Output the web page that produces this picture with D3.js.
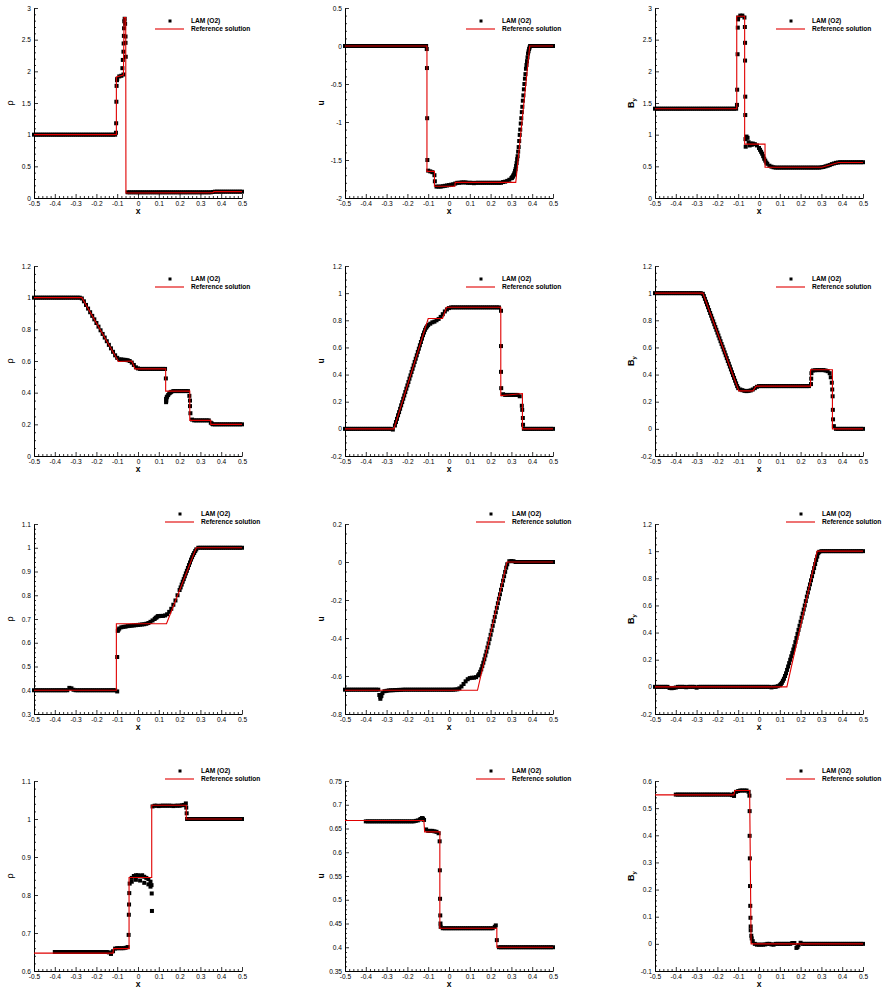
<!DOCTYPE html>
<html><head><meta charset="utf-8">
<script src="https://cdn.jsdelivr.net/npm/d3@7"></script>
<style>
body{margin:0;background:#fff}
svg{display:block}
text{font-family:"Liberation Sans",Arial,Helvetica,sans-serif}
</style>
</head><body>
<svg id="chart" width="887" height="988"></svg>
<script>
// ---------- DATA ----------
const xGrid = [-0.5,-0.49,-0.48,-0.47,-0.46,-0.45,-0.44,-0.43,-0.42,-0.41,
-0.4,-0.39,-0.38,-0.37,-0.36,-0.35,-0.34,-0.33,-0.32,-0.31,
-0.3,-0.29,-0.28,-0.27,-0.26,-0.25,-0.24,-0.23,-0.22,-0.21,
-0.2,-0.19,-0.18,-0.17,-0.16,-0.15,-0.14,-0.13,-0.12,-0.11,
-0.1,-0.09,-0.08,-0.07,-0.06,-0.05,-0.04,-0.03,-0.02,-0.01,
0,0.01,0.02,0.03,0.04,0.05,0.06,0.07,0.08,0.09,
0.1,0.11,0.12,0.13,0.14,0.15,0.16,0.17,0.18,0.19,
0.2,0.21,0.22,0.23,0.24,0.25,0.26,0.27,0.28,0.29,
0.3,0.31,0.32,0.33,0.34,0.35,0.36,0.37,0.38,0.39,
0.4,0.41,0.42,0.43,0.44,0.45,0.46,0.47,0.48,0.49,0.5];

const xTicks = [-0.5,-0.4,-0.3,-0.2,-0.1,0,0.1,0.2,0.3,0.4,0.5];
const legendLabels = ["LAM (O2)", "Reference solution"];

// Case 1
const lamRho1 = [
1,1,1,1,1,1,1,1,1,1,
1,1,1,1,1,1,1,1,1,1,
1,1,1,1,1,1,1,1,1,1,
1,1,1,1,1,1,1,1,1,1,
1.88,1.92,1.93,1.95,2.55,0.09,0.09,0.09,0.09,0.09,
0.09,0.09,0.09,0.09,0.09,0.09,0.09,0.09,0.09,0.09,
0.09,0.09,0.09,0.09,0.09,0.09,0.09,0.09,0.09,0.09,
0.09,0.09,0.09,0.09,0.09,0.09,0.09,0.09,0.09,0.09,
0.09,0.09,0.09,0.09,0.09,0.09,0.095,0.1,0.1,0.1,
0.1,0.1,0.1,0.1,0.1,0.1,0.1,0.1,0.1,0.1,0.1];
const extRho1 = [[-0.106,1.03],[-0.105,1.18],[-0.104,1.52],[-0.103,1.77],[-0.101,1.86],[-0.075,2.05],[-0.073,2.18],[-0.07,2.31],[-0.069,2.44],[-0.068,2.56],[-0.067,2.68],[-0.066,2.79],[-0.064,2.83],[-0.062,2.75],[-0.06,2.45],[-0.059,2.23]];
const refXRho1 = [-0.5,-0.104,-0.104,-0.07,-0.067,-0.059,-0.058,0.36,0.365,0.5];
const refYRho1 = [1,1,1.91,1.94,2.85,2.85,0.08,0.085,0.1,0.1];
const yTicksRho1 = [0,0.5,1,1.5,2,2.5,3];

const lamU1 = [
0,0,0,0,0,0,0,0,0,0,
0,0,0,0,0,0,0,0,0,0,
0,0,0,0,0,0,0,0,0,0,
0,0,0,0,0,0,0,0,0,0,
-1.64,-1.65,-1.66,-1.7,-1.85,-1.85,-1.85,-1.845,-1.84,-1.835,
-1.83,-1.825,-1.82,-1.81,-1.8,-1.8,-1.795,-1.795,-1.795,-1.8,
-1.8,-1.8,-1.805,-1.8,-1.8,-1.8,-1.8,-1.8,-1.8,-1.8,
-1.8,-1.8,-1.8,-1.8,-1.8,-1.8,-1.79,-1.785,-1.775,-1.76,
-1.74,-1.7,-1.62,-1.45,-1.17,-0.87,-0.57,-0.3,-0.1,0,
0,0,0,0,0,0,0,0,0,0,0];
const extU1 = [[-0.107,-0.04],[-0.106,-0.29],[-0.105,-0.95],[-0.104,-1.5],[-0.068,-1.78],
[0.3025,-1.735],[0.305,-1.725],[0.3075,-1.715],[0.3125,-1.69],[0.315,-1.67],[0.3175,-1.645],
[0.3225,-1.58],[0.325,-1.54],[0.3275,-1.49],[0.3325,-1.39],[0.335,-1.33],[0.3375,-1.25],
[0.3425,-1.1],[0.345,-1.02],[0.3475,-0.95],[0.3525,-0.8],[0.355,-0.72],[0.3575,-0.65],
[0.3625,-0.5],[0.365,-0.43],[0.3675,-0.37],[0.3725,-0.25],[0.375,-0.2],[0.3775,-0.15],
[0.3825,-0.07],[0.385,-0.04],[0.3875,-0.02]];
const refXU1 = [-0.5,-0.106,-0.106,-0.07,-0.07,0.028,0.03,0.321,0.388,0.5];
const refYU1 = [0,0,-1.65,-1.65,-1.845,-1.845,-1.795,-1.795,0,0];
const yTicksU1 = [-2,-1.5,-1,-0.5,0,0.5];

const lamBy1 = [
1.41,1.41,1.41,1.41,1.41,1.41,1.41,1.41,1.41,1.41,
1.41,1.41,1.41,1.41,1.41,1.41,1.41,1.41,1.41,1.41,
1.41,1.41,1.41,1.41,1.41,1.41,1.41,1.41,1.41,1.41,
1.41,1.41,1.41,1.41,1.41,1.41,1.41,1.41,1.41,1.41,
2.85,2.88,2.88,2.85,0.97,0.88,0.86,0.86,0.85,0.83,
0.79,0.73,0.66,0.59,0.54,0.51,0.495,0.485,0.48,0.48,
0.48,0.48,0.48,0.48,0.48,0.48,0.48,0.48,0.48,0.48,
0.48,0.48,0.48,0.48,0.48,0.48,0.48,0.48,0.48,0.48,
0.485,0.49,0.5,0.51,0.52,0.535,0.545,0.555,0.56,0.565,
0.565,0.565,0.565,0.565,0.565,0.565,0.565,0.565,0.565,0.565,0.565];
const extBy1 = [[-0.106,1.47],[-0.105,1.71],[-0.103,2.27],[-0.102,2.69],[-0.101,2.82],[-0.068,2.7],[-0.067,2.45],[-0.067,2.17],[-0.066,1.6],[-0.066,1.31],[-0.065,0.93],[-0.064,0.81],[-0.055,0.95],[-0.045,0.83],[-0.035,0.84],[0.005,0.76],[0.015,0.7],[0.025,0.62],[0.035,0.56]];
const refXBy1 = [-0.5,-0.107,-0.107,-0.069,-0.069,0.029,0.029,0.302,0.382,0.5];
const refYBy1 = [1.41,1.41,2.87,2.87,0.85,0.85,0.485,0.485,0.56,0.56];
const yTicksBy1 = [0,0.5,1,1.5,2,2.5,3];

// Case 2
const lamRho2 = [
1,1,1,1,1,1,1,1,1,1,
1,1,1,1,1,1,1,1,1,1,
1,1,1,0.995,0.977,0.954,0.931,0.908,0.885,0.863,
0.84,0.817,0.794,0.771,0.748,0.725,0.702,0.68,0.658,0.636,
0.62,0.61,0.61,0.608,0.607,0.605,0.6,0.59,0.575,0.56,
0.553,0.55,0.55,0.55,0.55,0.55,0.55,0.55,0.55,0.55,
0.55,0.55,0.55,0.55,0.375,0.395,0.405,0.41,0.41,0.41,
0.41,0.41,0.41,0.41,0.41,0.315,0.23,0.225,0.225,0.225,
0.225,0.225,0.225,0.225,0.225,0.21,0.2,0.2,0.2,0.2,
0.2,0.2,0.2,0.2,0.2,0.2,0.2,0.2,0.2,0.2,0.2];
const extRho2 = [[0.134,0.49],[0.135,0.36],[0.135,0.34],[0.136,0.35],[0.138,0.37],[0.145,0.385],[0.155,0.4],[0.247,0.38],[0.25,0.35],[0.252,0.27],[0.355,0.205]];
const refXRho2 = [-0.5,-0.27,-0.094,-0.03,-0.014,0.133,0.133,0.249,0.249,0.35,0.35,0.5];
const refYRho2 = [1,1,0.597,0.6,0.55,0.55,0.41,0.41,0.225,0.225,0.2,0.2];
const yTicksRho2 = [0,0.2,0.4,0.6,0.8,1,1.2];

const lamU2 = [
0,0,0,0,0,0,0,0,0,0,
0,0,0,0,0,0,0,0,0,0,
0,0,0,-0.005,0.025,0.074,0.123,0.173,0.222,0.271,
0.32,0.37,0.419,0.468,0.517,0.567,0.616,0.665,0.71,0.745,
0.765,0.775,0.785,0.79,0.8,0.81,0.825,0.845,0.865,0.88,
0.89,0.895,0.895,0.895,0.895,0.895,0.895,0.895,0.895,0.895,
0.895,0.895,0.895,0.895,0.895,0.895,0.895,0.895,0.895,0.895,
0.895,0.895,0.895,0.895,0.895,0.87,0.255,0.25,0.25,0.25,
0.25,0.25,0.25,0.25,0.24,0.17,0,0,0,0,
0,0,0,0,0,0,0,0,0,0,0];
const extU2 = [[-0.255,0.05],[-0.245,0.1],[-0.235,0.148],[-0.225,0.197],[-0.215,0.246],[-0.205,0.296],[-0.195,0.345],[-0.185,0.394],[-0.175,0.443],[-0.165,0.493],[-0.155,0.542],[-0.145,0.591],[-0.135,0.64],[-0.125,0.69],[-0.115,0.73],[-0.105,0.755],[0.25,0.61],[0.25,0.42],[0.251,0.3],[0.352,0.14],[0.355,0.08],[0.356,0.03]];
const refXU2 = [-0.5,-0.265,-0.1,-0.031,-0.012,0.249,0.249,0.353,0.353,0.5];
const refYU2 = [0,0,0.813,0.813,0.896,0.896,0.245,0.26,0,0];
const yTicksU2 = [-0.2,0,0.2,0.4,0.6,0.8,1,1.2];

const lamBy2 = [
1,1,1,1,1,1,1,1,1,1,
1,1,1,1,1,1,1,1,1,1,
1,1,1,0.995,0.958,0.917,0.875,0.834,0.792,0.75,
0.709,0.667,0.625,0.584,0.542,0.5,0.459,0.417,0.376,0.335,
0.3,0.29,0.285,0.28,0.278,0.28,0.283,0.29,0.3,0.31,
0.315,0.315,0.315,0.315,0.315,0.315,0.315,0.315,0.315,0.315,
0.315,0.315,0.315,0.315,0.315,0.315,0.315,0.315,0.315,0.315,
0.315,0.315,0.315,0.315,0.315,0.33,0.43,0.432,0.433,0.433,
0.433,0.433,0.43,0.425,0.41,0.34,0.02,0,0,0,
0,0,0,0,0,0,0,0,0,0,0];
const extBy2 = [[-0.265,0.978],[-0.255,0.937],[-0.245,0.896],[-0.235,0.854],[-0.225,0.813],[-0.215,0.771],[-0.205,0.73],[-0.195,0.688],[-0.185,0.646],[-0.175,0.605],[-0.165,0.563],[-0.155,0.521],[-0.145,0.48],[-0.135,0.438],[-0.125,0.396],[-0.115,0.355],[-0.105,0.315],[0.251,0.37],[0.252,0.41],[0.345,0.38],[0.352,0.29],[0.354,0.24],[0.355,0.14],[0.356,0.07]];
const refXBy2 = [-0.5,-0.27,-0.097,-0.029,-0.014,0.248,0.248,0.353,0.353,0.5];
const refYBy2 = [1,1,0.28,0.28,0.315,0.315,0.435,0.435,0,0];
const yTicksBy2 = [-0.2,0,0.2,0.4,0.6,0.8,1,1.2];

// Case 3
const lamRho3 = [
0.4,0.4,0.4,0.4,0.4,0.4,0.4,0.4,0.4,0.4,
0.4,0.4,0.4,0.4,0.4,0.4,0.4,0.41,0.408,0.402,
0.4,0.4,0.4,0.4,0.4,0.4,0.4,0.4,0.4,0.4,
0.4,0.4,0.4,0.4,0.4,0.4,0.4,0.4,0.4,0.4,
0.395,0.66,0.665,0.667,0.668,0.67,0.671,0.672,0.673,0.674,
0.675,0.676,0.677,0.678,0.68,0.683,0.688,0.694,0.7,0.707,
0.712,0.713,0.713,0.715,0.72,0.73,0.743,0.76,0.778,0.8,
0.822,0.845,0.868,0.892,0.915,0.938,0.96,0.978,0.993,1,
1,1,1,1,1,1,1,1,1,1,
1,1,1,1,1,1,1,1,1,1,1];
const extRho3 = [[-0.1,0.54],[-0.097,0.65],[-0.094,0.655],[0.085,0.705],[0.095,0.712],[0.205,0.833],[0.215,0.857],[0.225,0.88],[0.235,0.903],[0.245,0.927],[0.255,0.95],[0.265,0.97],[0.275,0.986]];
const refXRho3 = [-0.5,-0.104,-0.104,0.137,0.28,0.5];
const refYRho3 = [0.4,0.4,0.68,0.68,1,1];
const yTicksRho3 = [0.3,0.4,0.5,0.6,0.7,0.8,0.9,1,1.1];

const lamU3 = [
-0.672,-0.672,-0.672,-0.672,-0.672,-0.672,-0.672,-0.672,-0.672,-0.672,
-0.672,-0.672,-0.672,-0.672,-0.672,-0.672,-0.672,-0.71,-0.69,-0.68,
-0.678,-0.676,-0.675,-0.675,-0.674,-0.674,-0.673,-0.673,-0.672,-0.672,
-0.672,-0.672,-0.672,-0.672,-0.672,-0.672,-0.672,-0.672,-0.672,-0.672,
-0.672,-0.672,-0.672,-0.672,-0.672,-0.672,-0.672,-0.672,-0.672,-0.672,
-0.672,-0.672,-0.672,-0.671,-0.67,-0.665,-0.655,-0.642,-0.628,-0.617,
-0.611,-0.609,-0.609,-0.606,-0.597,-0.578,-0.548,-0.512,-0.472,-0.428,
-0.383,-0.336,-0.289,-0.241,-0.193,-0.146,-0.098,-0.052,-0.012,0.004,
0.005,0.004,0,0,0,0,0,0,0,0,
0,0,0,0,0,0,0,0,0,0,0];
const extU3 = [[0.145,-0.59],[0.155,-0.565],[0.165,-0.53],[0.175,-0.492],[0.185,-0.45],[0.195,-0.406],[0.205,-0.36],[0.215,-0.312],[0.225,-0.265],[0.235,-0.217],[0.245,-0.17],[0.255,-0.122],[0.265,-0.075],[0.275,-0.03],[-0.335,-0.7],[-0.325,-0.705],[-0.33,-0.72]];
const refXU3 = [-0.5,0.137,0.279,0.5];
const refYU3 = [-0.675,-0.675,0,0];
const yTicksU3 = [-0.8,-0.6,-0.4,-0.2,0,0.2];

const lamBy3 = [
0,0,0,0,0,0,0,-0.008,-0.01,-0.008,
-0.005,0,0,0,0,-0.003,0,0,0,0,
-0.006,0,0,0,0,0,0,0,0,0,
0,0,0,0,0,0,0,0,0,0,
0,0,0,0,0,0,0,0,0,0,
0,0,0,0,0,0,-0.004,0,0,0.005,
0.012,0.03,0.06,0.1,0.15,0.2,0.25,0.3,0.36,0.42,
0.48,0.54,0.6,0.665,0.725,0.785,0.845,0.905,0.96,0.995,
1,1,1,1,1,1,1,1,1,1,
1,1,1,1,1,1,1,1,1,1,1];
const extBy3 = [[0.105,0.02],[0.115,0.045],[0.125,0.08],[0.135,0.125],[0.145,0.175],[0.155,0.225],[0.165,0.275],[0.175,0.33],[0.185,0.39],[0.195,0.45],[0.205,0.51],[0.215,0.57],[0.225,0.632],[0.235,0.695],[0.245,0.755],[0.255,0.815],[0.265,0.875],[0.275,0.935],[0.285,0.985]];
const refXBy3 = [-0.5,0.134,0.28,0.5];
const refYBy3 = [0,0,1,1];
const yTicksBy3 = [-0.2,0,0.2,0.4,0.6,0.8,1,1.2];

// Case 4
const lamRho4 = [
null,null,null,null,null,null,null,null,null,null,
0.65,0.65,0.65,0.65,0.65,0.65,0.65,0.65,0.65,0.65,
0.65,0.65,0.65,0.65,0.65,0.65,0.65,0.65,0.65,0.65,
0.65,0.65,0.65,0.65,0.65,0.65,0.649,0.646,0.652,0.659,
0.66,0.66,0.66,0.66,0.661,0.663,0.83,0.845,0.85,0.852,
0.852,0.85,0.852,0.848,0.845,0.842,0.835,1.033,1.035,1.035,
1.034,1.035,1.035,1.035,1.035,1.035,1.035,1.034,1.035,1.035,
1.035,1.036,1.037,1.041,1,1,1,1,1,1,
1,1,1,1,1,1,1,1,1,1,
1,1,1,1,1,1,1,1,1,1,1];
const extRho4 = [[-0.045,0.695],[-0.044,0.748],[-0.043,0.775],[-0.042,0.805],[-0.03,0.835],[-0.01,0.84],[0.01,0.838],[0.03,0.832],[0.05,0.828],[0.06,0.822],[0.065,0.826],[0.066,0.804],[0.067,0.758],[0.232,1.03],[0.234,1.015],[0.236,1],[-0.13,0.645]];
const refXRho4 = [-0.5,-0.12,-0.118,-0.043,-0.043,0.066,0.066,0.232,0.232,0.5];
const refYRho4 = [0.647,0.647,0.659,0.659,0.846,0.846,1.036,1.036,1,1];
const yTicksRho4 = [0.6,0.7,0.8,0.9,1,1.1];

const lamU4 = [
null,null,null,null,null,null,null,null,null,null,
0.665,0.665,0.665,0.665,0.665,0.665,0.665,0.665,0.665,0.665,
0.665,0.665,0.665,0.665,0.665,0.665,0.665,0.665,0.665,0.665,
0.665,0.665,0.665,0.665,0.666,0.667,0.669,0.672,0.668,0.648,
0.645,0.645,0.645,0.644,0.643,0.64,0.443,0.44,0.44,0.44,
0.44,0.44,0.44,0.44,0.44,0.44,0.44,0.44,0.44,0.44,
0.44,0.44,0.44,0.44,0.44,0.44,0.44,0.44,0.44,0.44,
0.44,0.44,0.443,0.415,0.4,0.4,0.4,0.4,0.4,0.4,
0.4,0.4,0.4,0.4,0.4,0.4,0.4,0.4,0.4,0.4,
0.4,0.4,0.4,0.4,0.4,0.4,0.4,0.4,0.4,0.4,0.4];
const extU4 = [[-0.045,0.623],[-0.044,0.562],[-0.043,0.502],[-0.042,0.467],[-0.041,0.45],[0.225,0.446],[-0.135,0.67],[-0.125,0.671]];
const refXU4 = [-0.5,-0.121,-0.117,-0.044,-0.044,0.23,0.23,0.5];
const refYU4 = [0.667,0.667,0.643,0.643,0.44,0.44,0.4,0.4];
const yTicksU4 = [0.35,0.4,0.45,0.5,0.55,0.6,0.65,0.7,0.75];

const lamBy4 = [
null,null,null,null,null,null,null,null,null,null,
0.55,0.55,0.55,0.55,0.55,0.55,0.55,0.55,0.55,0.55,
0.55,0.55,0.55,0.55,0.55,0.55,0.55,0.55,0.55,0.55,
0.55,0.55,0.55,0.55,0.55,0.55,0.55,0.548,0.553,0.56,
0.563,0.565,0.565,0.565,0.565,0.56,0.05,0.01,0,-0.003,
-0.003,-0.003,-0.003,-0.002,0,0,-0.002,-0.003,0,0,
0,0,0,0,0,0,0.003,0.003,-0.015,-0.005,
0.004,0,0,0,0,0,0,0,0,0,
0,0,0,0,0,0,0,0,0,0,
0,0,0,0,0,0,0,0,0,0,0];
const extBy4 = [[-0.046,0.546],[-0.045,0.489],[-0.045,0.398],[-0.044,0.315],[-0.043,0.213],[-0.042,0.14],[-0.041,0.096],[-0.04,0.064],[-0.037,0.03],[-0.035,0.02],[-0.12,0.545],[0.185,-0.012]];
const refXBy4 = [-0.5,-0.121,-0.116,-0.045,-0.038,0.5];
const refYBy4 = [0.549,0.549,0.565,0.565,0,0];
const yTicksBy4 = [-0.1,0,0.1,0.2,0.3,0.4,0.5,0.6];

// ---------- LAYOUT ----------
const colX = [34, 345, 655];
const rowY = [8, 266, 524, 781];
const plotW = 208, plotH = 190;

const panels = [
  {r:0,c:0,v:"rho",lam:lamRho1,ext:extRho1,rx:refXRho1,ry:refYRho1,yt:yTicksRho1,minor:0.1},
  {r:0,c:1,v:"u",lam:lamU1,ext:extU1,rx:refXU1,ry:refYU1,yt:yTicksU1,minor:0.1},
  {r:0,c:2,v:"By",lam:lamBy1,ext:extBy1,rx:refXBy1,ry:refYBy1,yt:yTicksBy1,minor:0.1},
  {r:1,c:0,v:"rho",lam:lamRho2,ext:extRho2,rx:refXRho2,ry:refYRho2,yt:yTicksRho2,minor:0.05},
  {r:1,c:1,v:"u",lam:lamU2,ext:extU2,rx:refXU2,ry:refYU2,yt:yTicksU2,minor:0.05},
  {r:1,c:2,v:"By",lam:lamBy2,ext:extBy2,rx:refXBy2,ry:refYBy2,yt:yTicksBy2,minor:0.05},
  {r:2,c:0,v:"rho",lam:lamRho3,ext:extRho3,rx:refXRho3,ry:refYRho3,yt:yTicksRho3,minor:0.02},
  {r:2,c:1,v:"u",lam:lamU3,ext:extU3,rx:refXU3,ry:refYU3,yt:yTicksU3,minor:0.05},
  {r:2,c:2,v:"By",lam:lamBy3,ext:extBy3,rx:refXBy3,ry:refYBy3,yt:yTicksBy3,minor:0.05},
  {r:3,c:0,v:"rho",lam:lamRho4,ext:extRho4,rx:refXRho4,ry:refYRho4,yt:yTicksRho4,minor:0.02},
  {r:3,c:1,v:"u",lam:lamU4,ext:extU4,rx:refXU4,ry:refYU4,yt:yTicksU4,minor:0.01},
  {r:3,c:2,v:"By",lam:lamBy4,ext:extBy4,rx:refXBy4,ry:refYBy4,yt:yTicksBy4,minor:0.02}
];

const svg = d3.select("#chart");
const RED = "#e00000";
const SQ = 4;
const fmt = v => String(+v.toFixed(3));

panels.forEach(p => {
  const x0 = colX[p.c], y0 = rowY[p.r];
  const g = svg.append("g").attr("transform", `translate(${x0},${y0})`);
  const x = d3.scaleLinear().domain([-0.5, 0.5]).range([0, plotW]);
  const yDom = [p.yt[0], p.yt[p.yt.length - 1]];
  const y = d3.scaleLinear().domain(yDom).range([plotH, 0]);

  // minor ticks
  const xMinor = d3.range(-0.5, 0.5001, 0.02).filter(v => Math.abs(v * 10 - Math.round(v * 10)) > 1e-6);
  const nMin = Math.round((yDom[1] - yDom[0]) / p.minor);
  const yMinor = d3.range(0, nMin + 1).map(i => yDom[0] + i * p.minor)
    .filter(v => !p.yt.some(t => Math.abs(t - v) < 1e-9));

  g.append("g").attr("transform", `translate(0,${plotH})`)
    .call(d3.axisBottom(x).tickValues(xTicks).tickSizeInner(-4).tickSizeOuter(0).tickPadding(3).tickFormat(fmt));
  g.append("g").attr("transform", `translate(0,${plotH})`)
    .call(d3.axisBottom(x).tickValues(xMinor).tickSizeInner(-2).tickSizeOuter(0).tickFormat(""))
    .select(".domain").remove();
  g.append("g")
    .call(d3.axisLeft(y).tickValues(p.yt).tickSizeInner(-4).tickSizeOuter(0).tickPadding(3).tickFormat(fmt));
  g.append("g")
    .call(d3.axisLeft(y).tickValues(yMinor).tickSizeInner(-2).tickSizeOuter(0).tickFormat(""))
    .select(".domain").remove();
  g.selectAll(".tick line").attr("stroke", "#000").attr("stroke-width", 0.8);
  g.selectAll(".domain").attr("stroke", "#000").attr("stroke-width", 1);
  g.selectAll(".tick text").attr("font-size", 6.6).attr("fill", "#000")
    .attr("font-family", "'Liberation Sans',Arial,sans-serif");

  // scatter (LAM)
  const pts = xGrid.map((xv, i) => [xv, p.lam[i]]).filter(d => d[1] !== null).concat(p.ext);
  g.append("g").selectAll("rect").data(pts).join("rect")
    .attr("x", d => x(d[0]) - SQ / 2).attr("y", d => y(d[1]) - SQ / 2)
    .attr("width", SQ).attr("height", SQ).attr("fill", "#000");

  // reference line
  const line = d3.line().x(d => x(d[0])).y(d => y(d[1]));
  g.append("path").datum(p.rx.map((v, i) => [v, p.ry[i]]))
    .attr("d", line).attr("fill", "none").attr("stroke", RED).attr("stroke-width", 1.1);

  // axis labels
  g.append("text").attr("x", plotW / 2).attr("y", plotH + 16).attr("text-anchor", "middle")
    .attr("font-size", 8.5).attr("font-weight", "bold").text("x");
  const yl = g.append("text").attr("transform", `translate(-24,${plotH / 2}) rotate(-90)`)
    .attr("text-anchor", "middle").attr("dy", "0.35em");
  if (p.v === "rho") {
    yl.attr("font-size", 9).text("ρ");
  } else if (p.v === "u") {
    yl.attr("font-size", 8.5).attr("font-weight", "bold").text("u");
  } else {
    yl.attr("font-size", 9).attr("font-weight", "bold");
    yl.append("tspan").text("B");
    yl.append("tspan").attr("font-size", 6).attr("dy", "0.35em").text("y");
  }

  // legend
  const up = p.r >= 2;
  const lx = up ? 146 : 136;
  const tx = up ? 167 : 157;
  const sy = up ? -10 : 13;
  const ly = up ? -2 : 21;
  const lg = g.append("g");
  lg.append("rect").attr("x", lx - 1.5).attr("y", sy - 1.5).attr("width", 3).attr("height", 3).attr("fill", "#000");
  lg.append("line").attr("x1", lx - 15).attr("x2", lx + 14).attr("y1", ly).attr("y2", ly)
    .attr("stroke", RED).attr("stroke-width", 1.1);
  lg.append("text").attr("x", tx).attr("y", sy + 2.3).attr("font-size", 6.6).attr("font-weight", "bold").text(legendLabels[0]);
  lg.append("text").attr("x", tx).attr("y", ly + 2.3).attr("font-size", 6.6).attr("font-weight", "bold").text(legendLabels[1]);
});
</script>
</body></html>
